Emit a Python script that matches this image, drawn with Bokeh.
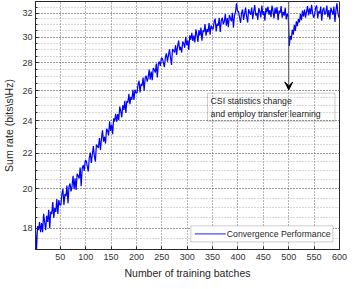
from bokeh.plotting import figure
from bokeh.models import (Range1d, FixedTicker, PrintfTickFormatter, Arrow, VeeHead,
                          Label, BoxAnnotation)
from bokeh.embed import file_html
from bokeh.resources import INLINE

# ---- data -------------------------------------------------------------
batches = list(range(1, 600, 2))
sum_rate = [
    # 1 .. 49
    17.90, 16.95, 18.10, 17.90, 18.30, 17.80, 18.25, 17.80, 18.70, 18.30, 17.90, 18.60, 18.30,
    18.90, 18.00, 18.80, 18.70, 19.30, 18.50, 19.00, 18.80, 19.45, 18.70, 19.40, 19.15,
    # 51 .. 99
    19.14, 19.71, 19.98, 19.15, 19.72, 19.60, 20.17, 19.24, 20.11, 20.28, 19.86, 20.13, 20.70,
    19.98, 20.56, 19.94, 20.82, 20.70, 20.56, 21.16, 20.14, 21.12, 21.30, 20.98, 21.56,
    # 101 .. 149
    21.55, 21.24, 20.94, 21.74, 22.03, 21.43, 21.92, 22.42, 21.82, 21.51, 22.51, 22.40, 22.30,
    22.90, 22.19, 22.89, 23.38, 22.68, 22.98, 22.57, 23.47, 23.36, 23.06, 23.96, 23.35,
    # 151 .. 199
    23.75, 23.14, 24.14, 23.94, 24.43, 23.93, 24.42, 24.02, 24.92, 24.61, 24.21, 25.00, 24.70,
    25.30, 24.49, 25.29, 25.18, 25.78, 25.08, 25.57, 25.37, 26.06, 25.36, 26.06, 25.85,
    # 201 .. 249
    25.84, 26.42, 26.70, 25.88, 26.46, 26.34, 26.92, 26.00, 26.88, 27.06, 26.64, 26.92, 27.50,
    26.78, 27.36, 26.74, 27.62, 27.50, 27.28, 27.96, 26.94, 27.92, 28.10, 27.78, 28.36,
    # 251 .. 299
    28.34, 28.01, 27.68, 28.45, 28.72, 28.10, 28.57, 29.04, 28.41, 27.85, 29.06, 28.93, 28.80,
    29.36, 28.61, 29.27, 29.72, 28.98, 29.24, 28.79, 29.65, 29.50, 29.16, 30.02, 29.37,
    # 301 .. 349
    29.75, 28.99, 30.14, 29.79, 30.34, 29.69, 30.13, 29.58, 30.63, 30.18, 29.62, 30.57, 30.12,
    30.77, 29.72, 30.56, 30.41, 31.06, 30.11, 30.66, 30.40, 31.15, 30.20, 30.95, 30.70,
    # 351 .. 399
    30.64, 31.28, 31.52, 30.46, 31.10, 30.94, 31.58, 30.42, 31.36, 31.60, 31.04, 31.28, 31.90,
    30.93, 31.56, 30.80, 31.83, 31.56, 31.29, 32.02, 30.76, 31.79, 32.02, 32.85, 32.18,
    # 401 .. 449
    32.12, 31.64, 31.16, 31.98, 32.30, 31.42, 31.94, 32.46, 31.68, 31.20, 32.32, 32.04, 31.85,
    32.46, 31.47, 32.17, 32.68, 31.79, 32.00, 31.41, 32.42, 32.12, 31.63, 32.64, 31.85,
    # 451 .. 499
    32.15, 31.35, 32.45, 32.05, 32.55, 31.85, 32.25, 31.65, 32.65, 32.15, 31.55, 32.45, 31.95,
    32.50, 31.40, 32.20, 32.00, 32.60, 31.60, 32.10, 31.78, 32.45, 31.45, 31.95, 31.70,
    # 501 .. 549
    29.30, 30.10, 29.80, 30.60, 30.20, 31.00, 30.50, 31.30, 30.90, 31.50, 31.20, 31.90, 31.40,
    32.20, 31.70, 32.30, 31.60, 32.10, 32.60, 31.80, 32.40, 31.90, 32.70, 32.00, 31.60,
    # 551 .. 599
    31.85, 32.45, 32.65, 31.55, 32.15, 31.95, 32.55, 31.35, 32.25, 32.45, 31.85, 32.05, 32.65,
    31.65, 32.25, 31.45, 32.45, 32.15, 31.85, 32.55, 31.25, 32.25, 32.85, 31.95, 31.60,
]
x_ticks = [50, 100, 150, 200, 250, 300, 350, 400, 450, 500, 550, 600]
y_ticks = [18, 20, 22, 24, 26, 28, 30, 32]
y_minor = [17 + 0.5 * i for i in range(33)]
series_name = "Convergence Performance"
note_lines = ["CSI statistics change", "and employ transfer learning"]
event_batch = 500

FONT = "Liberation Sans"
AXC = "#262626"

p = figure(width=349, height=281, output_backend="svg", toolbar_location=None,
           y_axis_type="log", x_range=Range1d(1, 600), y_range=Range1d(17, 33),
           min_border_left=2, min_border_right=10, min_border_top=1, min_border_bottom=0)

p.line(batches, sum_rate, line_color="#0000ff", line_width=1.2)

# axes
p.xaxis.ticker = FixedTicker(ticks=x_ticks)
p.yaxis.ticker = FixedTicker(ticks=y_ticks, minor_ticks=y_minor)
p.yaxis.formatter = PrintfTickFormatter(format="%d")
for ax in (p.xaxis, p.yaxis):
    ax.axis_line_color = AXC
    ax.major_tick_line_color = AXC
    ax.minor_tick_line_color = AXC
    ax.major_tick_in = 3
    ax.major_tick_out = 0
    ax.minor_tick_in = 2
    ax.minor_tick_out = 0
    ax.major_label_text_font = FONT
    ax.major_label_text_font_size = "9px"
    ax.major_label_text_color = "#333333"
    ax.axis_label_text_font = FONT
    ax.axis_label_text_font_size = "10.5px"
    ax.axis_label_text_font_style = "normal"
    ax.axis_label_text_color = AXC
p.xaxis.minor_tick_line_color = None
p.xaxis.axis_label = "Number of training batches"
p.yaxis.axis_label = "Sum rate (bits\\s\\Hz)"
p.xaxis.major_label_standoff = 4
p.yaxis.major_label_standoff = 3
p.xaxis.axis_label_standoff = 4
p.yaxis.axis_label_standoff = 4

p.outline_line_color = AXC
p.outline_line_alpha = 1

# grids
for g in (p.xgrid, p.ygrid):
    g.grid_line_color = "#333333"
    g.grid_line_alpha = 0.75
    g.grid_line_dash = "1 2"
p.ygrid.minor_grid_line_color = "#666666"
p.ygrid.minor_grid_line_alpha = 0.5
p.ygrid.minor_grid_line_dash = "1 2"

# annotation
p.add_layout(Arrow(end=VeeHead(size=8, fill_color="black", line_color="black"),
                   x_start=event_batch, y_start=33, x_end=event_batch, y_end=26.05,
                   line_color="#555555", line_width=1))
p.add_layout(BoxAnnotation(left=340, right=591, bottom=23.96, top=25.82,
                           fill_alpha=0, line_color="#555555", line_width=1))
for txt, yv in zip(note_lines, [25.28, 24.42]):
    p.add_layout(Label(x=346, y=yv, text=txt, text_font=FONT, text_font_size="8.7px",
                       text_color="#222222", text_baseline="middle", text_align="left"))

# legend (box, sample line, label)
p.add_layout(BoxAnnotation(left=307, right=587, bottom=17.35, top=18.11,
                           fill_color="white", fill_alpha=1,
                           line_color="#555555", line_width=1))
p.add_layout(Arrow(end=None, x_start=315, y_start=17.73, x_end=376, y_end=17.73,
                   line_color="#4a4aff", line_width=1.3))
p.add_layout(Label(x=378, y=17.73, text=series_name, text_font=FONT,
                   text_font_size="8.7px", text_color=AXC,
                   text_baseline="middle", text_align="left"))

open("out.html", "w").write(file_html(p, INLINE))
